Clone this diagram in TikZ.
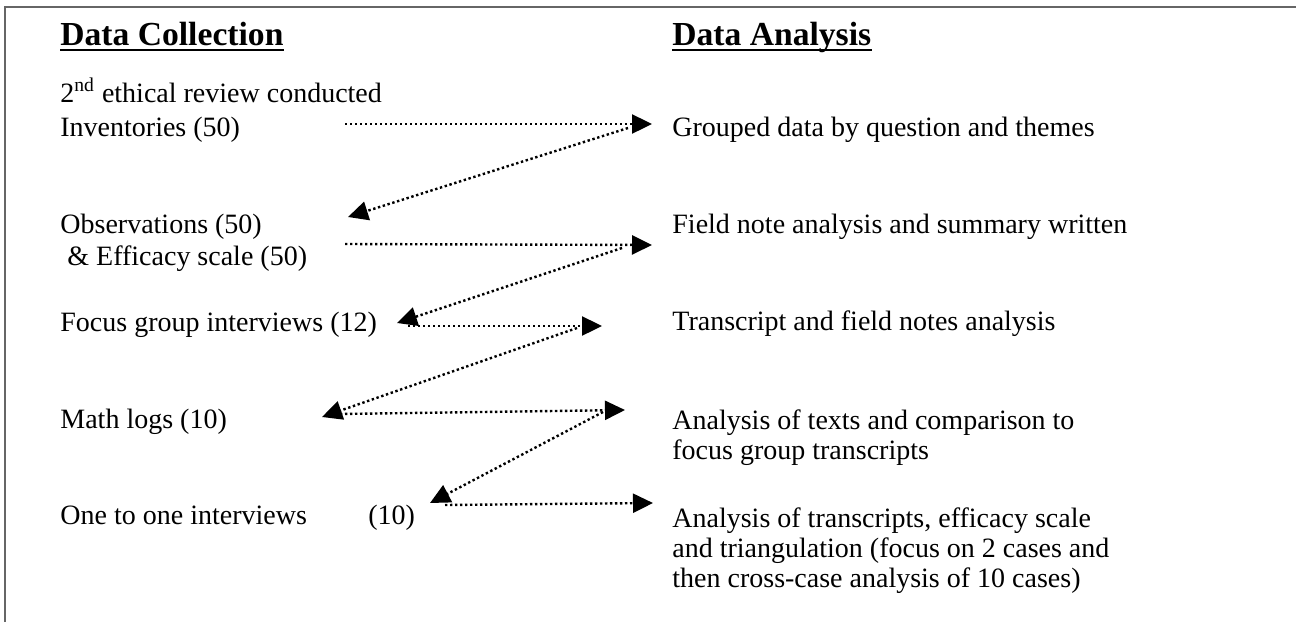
\documentclass[tikz,border=0pt]{standalone}
\usepackage{fontspec}
\setmainfont{Liberation Serif}
\usetikzlibrary{arrows.meta}
\definecolor{framegray}{gray}{0.4}
\newcommand\mylines[1]{\begin{tabular}[t]{@{}l@{}}#1\end{tabular}}
\begin{document}
\begin{tikzpicture}[x=0.5pt,y=-0.5pt,
  txt/.style={anchor=base west,inner sep=0pt,font=\fontsize{14pt}{15pt}\selectfont},
  head/.style={anchor=base west,inner sep=0pt,font=\fontsize{16.8pt}{18pt}\selectfont\bfseries},
  uline/.style={line width=1pt},
  flow/.style={line width=1.2pt,dash pattern=on 1.2pt off 1.3pt,-{Triangle[length=10pt,width=9.5pt]}},
  frameline/.style={line width=1pt,draw=framegray}]
\useasboundingbox (0,0) rectangle (1296,622);
% frame (top and left edges)
\draw[frameline] (5,622) -- (5,7) -- (1296,7);

% headings
\node[head] (hc) at (60,45) {Data Collection};
\node[head] (ha) at (672,45) {Data Analysis};
\draw[uline] ([yshift=-2.5pt]hc.base west) -- ([yshift=-2.5pt]hc.base east);
\draw[uline] ([yshift=-2.5pt]ha.base west) -- ([yshift=-2.5pt]ha.base east);

% data collection
\node[txt] (c1) at (60,102) {\mylines{2\textsuperscript{nd} ethical review conducted\\[2pt] Inventories (50)}};
\node[txt] (c2) at (60,233) {\mylines{Observations (50)\\[1pt] \hspace*{0.25em}\& Efficacy scale (50)}};
\node[txt] (c3) at (60,331) {Focus group interviews (12)};
\node[txt] (c4) at (60,428) {Math logs (10)};
\node[txt] (c5) at (60,524) {\makebox[154pt][l]{One to one interviews}(10)};

% data analysis
\node[txt] (a1) at (672,136) {Grouped data by question and themes};
\node[txt] (a2) at (672,233) {Field note analysis and summary written};
\node[txt] (a3) at (672,330) {Transcript and field notes analysis};
\node[txt] (a4) at (672,429) {\mylines{Analysis of texts and comparison to\\ focus group transcripts}};
\node[txt] (a5) at (672,527) {\mylines{Analysis of transcripts, efficacy scale\\ and triangulation (focus on 2 cases and\\ then cross-case analysis of 10 cases)}};

% arrow end points
\coordinate (h1s) at (345,124);
\coordinate (h1e) at (652,124);
\coordinate (d1s) at (628,128);
\coordinate (d1e) at (348,217);
\coordinate (h2s) at (345,244);
\coordinate (h2e) at (652,245);
\coordinate (d2s) at (622,248);
\coordinate (d2e) at (397,323);
\coordinate (h3s) at (408,326);
\coordinate (h3e) at (602,326);
\coordinate (d3s) at (577,328);
\coordinate (d3e) at (322,417);
\coordinate (h4s) at (340,414);
\coordinate (h4e) at (625,410);
\coordinate (d4s) at (603,412);
\coordinate (d4e) at (430,503);
\coordinate (h5s) at (445,505);
\coordinate (h5e) at (653,503);

\draw[flow] (h1s) -- (h1e);
\draw[flow] (d1s) -- (d1e);
\draw[flow] (h2s) -- (h2e);
\draw[flow] (d2s) -- (d2e);
\draw[flow] (h3s) -- (h3e);
\draw[flow] (d3s) -- (d3e);
\draw[flow] (h4s) -- (h4e);
\draw[flow] (d4s) -- (d4e);
\draw[flow] (h5s) -- (h5e);
\end{tikzpicture}
\end{document}
